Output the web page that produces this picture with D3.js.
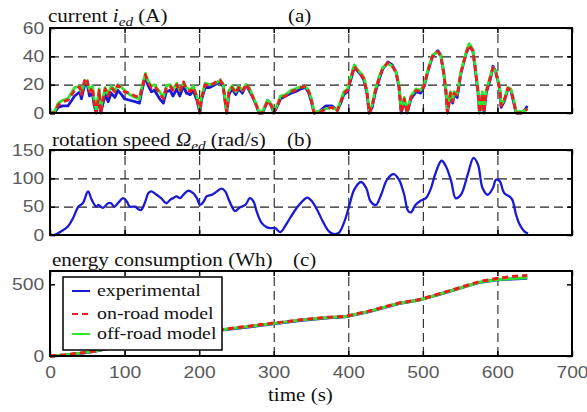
<!DOCTYPE html>
<html>
<head>
<meta charset="utf-8">
<script src="https://cdn.jsdelivr.net/npm/d3@7"></script>
<style>
  body { margin: 0; background: #fff; }
  .tick text { font-family: "Liberation Sans", Arial, sans-serif; font-size: 16.5px; fill: #5a5a5a; }
  .serif { font-family: "Liberation Serif", "Times New Roman", serif; fill: #111; }
</style>
</head>
<body>
<div id="graf"></div>
<script>
// ticks
ticksX = [0, 100, 200, 300, 400, 500, 600, 700]
ticksA = [0, 20, 40, 60]
ticksB = [0, 50, 100, 150]
ticksC = [0, 500]

// (a) current, time (s)
tA = [0, 6, 11, 17, 24, 33, 40, 42, 47, 50,
      53, 57, 59, 62, 66, 68, 74, 78, 82, 87,
      91, 96, 100, 107, 114, 120, 123, 128, 131, 136,
      140, 147, 152, 156, 161, 165, 170, 174, 179, 183,
      188, 192, 197, 201, 203, 208, 214, 221, 228, 232,
      237, 240, 244, 249, 253, 258, 263, 267, 272, 277,
      280, 285, 289, 292, 297, 300, 305, 309, 316, 323,
      329, 336, 343, 347, 351, 354, 361, 370, 378, 385,
      390, 394, 399, 402, 408, 412, 417, 421, 425, 428,
      432, 436, 441, 446, 453, 459, 464, 468, 471, 475,
      479, 484, 491, 497, 502, 506, 513, 520, 524, 528,
      531, 533, 537, 540, 542, 546, 551, 558, 562, 567,
      570, 574, 576, 580, 582, 585, 591, 594, 598, 603,
      605, 609, 614, 618, 622, 625, 632, 638, 640]
curExp = [0, 0, 4, 5, 5, 12, 15, 10, 21, 20,
          12, 14, 6, 0, 12, 0, 13, 8, 14, 11,
          16, 13, 10, 9, 8, 7, 15, 26, 20, 15,
          16, 10, 7, 15, 16, 12, 17, 12, 19, 14,
          13, 16, 9, 0, 9, 18, 18, 20, 22, 19,
          0, 13, 17, 13, 17, 14, 20, 16, 11, 5,
          0, 0, 5, 9, 5, 0, 5, 10, 12, 14,
          15, 17, 18, 14, 7, 0, 1, 5, 5, 2,
          7, 13, 15, 21, 32, 30, 27, 23, 14, 0,
          4, 14, 23, 31, 36, 34, 29, 18, 0, 9,
          0, 10, 15, 14, 19, 28, 40, 44, 41, 28,
          14, 0, 13, 7, 13, 11, 28, 42, 47, 44,
          32, 14, 0, 13, 0, 14, 25, 33, 29, 17,
          4, 8, 17, 16, 7, 0, 0, 3, 5]
curOn = [0, 0, 5.6, 8, 9, 16, 18.6, 13, 24.5, 23,
         15, 18, 8, 0, 16, 0, 17, 12, 18, 15,
         19.5, 17, 15, 14, 12, 11, 17, 27, 22, 18,
         19, 14, 10, 18, 19, 16, 20, 15, 22, 17,
         15, 18, 11, 0, 10, 20, 19, 21.5, 23.5, 20,
         0, 15, 18, 14, 18, 15, 20.5, 17, 11, 5,
         0, 0, 5, 8.5, 5, 0, 5, 11, 12, 15,
         16, 18, 19, 15, 8, 0, 0, 3, 4, 1,
         8, 14, 16, 22, 33, 30, 27, 24, 15, 0,
         5, 15, 24, 31, 35.5, 33, 28.5, 19, 0, 10,
         0, 11, 16, 15, 19.5, 28.5, 40, 43.5, 40, 28.5,
         15, 0, 14, 8, 14, 12, 28.5, 42, 48, 44,
         33, 15, 0, 14, 0, 15, 26, 32, 28, 17,
         5, 8.5, 17.5, 16, 8, 0, 0, 2, 3]
curOff = [0, 1, 7, 9, 10, 18, 19, 14, 23, 22,
          16, 19, 10, 2, 17, 3, 18, 13, 19, 16,
          20, 18, 16, 13, 11, 10, 18, 28, 23, 19,
          20, 15, 11, 19, 20, 17, 21, 16, 21, 18,
          16, 19, 12, 2, 11, 21, 20, 21, 23, 21,
          1, 16, 19, 15, 19, 16, 20, 18, 12, 6,
          1, 1, 6, 9, 6, 1, 6, 12, 13, 16,
          17, 18.5, 18.5, 16, 9, 1, 1, 3, 4, 2,
          9, 15, 17, 23, 34, 31, 28, 25, 16, 2,
          6, 16, 25, 32, 35, 33, 29, 20, 2, 11,
          1, 12, 17, 16, 20, 29, 41, 43, 41, 29,
          16, 2, 15, 9, 15, 13, 29, 43, 49, 45,
          34, 16, 1, 15, 2, 16, 27, 32, 29, 18,
          6, 9, 18, 17, 9, 1, 1, 2, 3]

// (b) rotation speed
tB = [0, 6, 15, 24, 31, 38, 44, 51, 56, 62,
      65, 71, 78, 82, 86, 91, 98, 103, 107, 114,
      118, 122, 127, 132, 136, 143, 149, 156, 161, 165,
      170, 174, 179, 185, 192, 197, 201, 206, 210, 217,
      224, 230, 235, 239, 244, 248, 255, 262, 268, 273,
      277, 284, 291, 297, 302, 309, 315, 322, 331, 338,
      345, 351, 358, 367, 374, 380, 387, 394, 401, 408,
      417, 424, 430, 437, 444, 452, 461, 468, 475, 480,
      484, 490, 497, 504, 511, 517, 525, 531, 538, 544,
      551, 560, 568, 574, 580, 587, 594, 598, 603, 609,
      616, 620, 625, 630, 636, 641]
speed = [1, 0, 6.5, 15, 30, 50, 56, 77, 62, 50,
         53, 48, 56, 56, 50, 56, 65, 59, 50, 50,
         46, 44, 56, 74, 77, 71, 65, 56, 62, 65,
         68, 65, 71, 78, 74, 65, 53, 59, 68, 71,
         77, 82, 77, 65, 50, 42, 49, 53, 65, 59,
         42, 21, 13.5, 12, 12, 5, 15, 30, 48, 59,
         66, 60, 45, 21, 6.5, 2, 3.5, 21, 50, 80,
         93.5, 83, 59, 53, 71, 97.6, 107.6, 97.6, 71, 43,
         40, 53, 60.5, 65, 83, 109, 131, 121, 95, 65,
         71, 106, 136, 124, 83, 71, 83, 97.6, 95, 74,
         68, 62, 36, 18, 6.5, 3]

// (c) energy consumption
tC = [0, 20, 40, 60, 100, 150, 200, 230, 266, 302, 338, 374, 396, 427, 468, 495, 526, 562, 575, 598, 620, 640]
enExp = [0, 6, 18, 33, 77, 122, 157, 181, 203, 226, 250, 267, 273, 308, 366, 390, 436, 493, 512, 530, 538, 543]
enOn = [0, 8, 20, 35, 80, 125, 160, 185, 208, 231, 254, 271, 277, 312, 370, 393, 440, 497, 518, 540, 555, 562]
enOff = [0, 7, 19, 34, 78, 123, 158, 183, 206, 229, 252, 269, 275, 310, 368, 391, 437, 494, 514, 532, 540, 546]

leyenda = ['experimental', 'on-road model', 'off-road model']
colores = ['#1a1ad6', '#ee1c1c', '#2ee62e']

estira = 1.17   // the picture is stretched sideways

svg = d3.select('#graf').append('svg').attr('width', 587).attr('height', 412)
svg.append('rect').attr('width', 587).attr('height', 412).attr('fill', '#fff')

x = d3.scaleLinear().domain([0, 700]).range([50, 572])
yA = d3.scaleLinear().domain([0, 60]).range([113, 28])
yB = d3.scaleLinear().domain([0, 150]).range([235, 150])
yC = d3.scaleLinear().domain([0, 593]).range([356, 271])

/***** grid, lines, frame and ticks of one panel *****/
function panel(y, ticksY, series, conEtiquetaX) {
  top_ = y.range()[1]
  bot = y.range()[0]
  g = svg.append('g')

  // dashed grid
  gx = g.append('g').attr('transform', `translate(0, ${bot})`)
    .call(d3.axisBottom(x).tickValues(ticksX.slice(1, -1)).tickSize(-(bot - top_)).tickFormat(''))
  gy = g.append('g').attr('transform', `translate(${x.range()[0]}, 0)`)
    .call(d3.axisLeft(y).tickValues(ticksY.slice(1, -1).filter(v => y(v) > top_ + 2)).tickSize(-(x.range()[1] - x.range()[0])).tickFormat(''))
  ;[gx, gy].forEach(a => {
    a.select('.domain').remove()
    a.selectAll('line').attr('stroke', '#222').attr('stroke-width', 1.1).attr('stroke-dasharray', '9,5')
  })

  // data lines
  series.forEach(s => {
    g.append('path')
      .datum(d3.zip(s.t, s.v))
      .attr('fill', 'none')
      .attr('stroke', s.color)
      .attr('stroke-width', s.ancho)
      .attr('stroke-dasharray', s.dash || null)
      .attr('stroke-linejoin', 'round')
      .attr('d', d3.line().curve(s.curva || d3.curveLinear).x(d => x(d[0])).y(d => y(d[1])))
  })

  // frame
  g.append('rect')
    .attr('x', x.range()[0]).attr('y', top_)
    .attr('width', x.range()[1] - x.range()[0]).attr('height', bot - top_)
    .attr('fill', 'none').attr('stroke', '#000').attr('stroke-width', 2)

  // inward ticks on the four sides
  g.append('g').attr('transform', `translate(${x.range()[0]}, 0)`)
    .call(d3.axisLeft(y).tickValues(ticksY).tickSize(-5).tickPadding(5))
  g.append('g').attr('transform', `translate(${x.range()[1]}, 0)`)
    .call(d3.axisRight(y).tickValues(ticksY).tickSize(-5).tickFormat(''))
  g.append('g').attr('transform', `translate(0, ${top_})`)
    .call(d3.axisTop(x).tickValues(ticksX).tickSize(-5).tickFormat(''))
  g.append('g').attr('transform', `translate(0, ${bot})`)
    .call(d3.axisBottom(x).tickValues(ticksX).tickSize(-5).tickPadding(10)
      .tickFormat(conEtiquetaX ? d3.format('d') : ''))
  g.selectAll('.domain').remove()
  g.selectAll('.tick line').filter(function() { return !this.getAttribute('stroke-dasharray') })
    .attr('stroke', '#000').attr('stroke-width', 1.5)
  g.selectAll('.tick text').attr('transform', `scale(${estira},1)`)
  return g
}

panel(yA, ticksA, [
  { t: tA, v: curExp, color: colores[0], ancho: 2.8 },
  { t: tA, v: curOff, color: colores[2], ancho: 2.8 },
  { t: tA, v: curOn, color: colores[1], ancho: 2.8, dash: '6,4' }
], false)

panel(yB, ticksB, [
  { t: tB, v: speed, color: colores[0], ancho: 2.3, curva: d3.curveCatmullRom }
], false)

panel(yC, ticksC, [
  { t: tC, v: enExp, color: colores[0], ancho: 3 },
  { t: tC, v: enOff, color: colores[2], ancho: 3 },
  { t: tC, v: enOn, color: colores[1], ancho: 3, dash: '6,4' }
], true)

/******** TITLES AND LABELS *************/
function texto(xp, yp, tam) {
  return svg.append('text').attr('class', 'serif')
    .attr('font-size', tam)
    .attr('transform', `translate(${xp}, ${yp}) scale(${estira},1)`)
}

t1 = texto(48, 22, 18)
t1.append('tspan').text('current ')
t1.append('tspan').attr('font-style', 'italic').text('i')
t1.append('tspan').attr('font-style', 'italic').attr('font-size', 13).attr('dy', 4).text('ed')
t1.append('tspan').attr('dy', -4).text(' (A)')
texto(288, 22, 18).text('(a)')

t2 = texto(52, 146, 18)
t2.append('tspan').text('rotation speed ')
t2.append('tspan').attr('font-style', 'italic').text('Ω')
t2.append('tspan').attr('font-style', 'italic').attr('font-size', 13).attr('dy', 4).text('ed')
t2.append('tspan').attr('dy', -4).text(' (rad/s)')
texto(287, 146, 18).text('(b)')

texto(52, 266, 18).text('energy consumption (Wh)')
texto(293, 266, 18).text('(c)')

texto(268, 401, 18).text('time (s)')

/******** LEGEND *************/
leg = svg.append('g')
leg.append('rect').attr('x', 63).attr('y', 277).attr('width', 159).attr('height', 73)
  .attr('fill', '#fff').attr('stroke', '#000').attr('stroke-width', 1.5)
filasY = [291, 314, 334]
leyenda.forEach((nombre, i) => {
  leg.append('line').attr('x1', 72).attr('x2', 90).attr('y1', filasY[i]).attr('y2', filasY[i])
    .attr('stroke', colores[i]).attr('stroke-width', 2)
    .attr('stroke-dasharray', i == 1 ? '6,4' : null)
  texto(97, filasY[i] + 5, 17).text(nombre)
})
</script>
</body>
</html>
